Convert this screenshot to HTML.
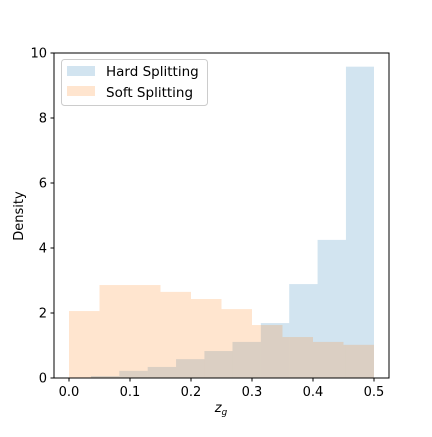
<!DOCTYPE html>
<html><head><meta charset="utf-8"><style>
body{margin:0;background:#fff;}
svg{font-family:"DejaVu Sans","Liberation Sans",sans-serif;}
</style></head><body>
<svg id="c" width="432" height="432" viewBox="0 0 432 432">
<rect width="432" height="432" fill="#fff"/>
<g id="bars"></g>
<rect x="54" y="53" width="335" height="325" fill="none" stroke="#000" stroke-width="1"/>
<g id="ticks" font-size="13" fill="#000"></g>
<text x="221" y="412" font-size="13" text-anchor="middle" font-style="italic">z<tspan font-size="9" dy="3">g</tspan></text>
<text x="23" y="216" font-size="13" text-anchor="middle" transform="rotate(-90 23 216)">Density</text>
<g>
<rect x="61.5" y="59.5" width="146" height="46" rx="3" fill="#fff" fill-opacity="0.8" stroke="#ccc"/>
<rect x="67" y="66" width="28" height="10" fill="#1f77b4" fill-opacity="0.2"/>
<text x="106" y="76" font-size="13.5">Hard Splitting</text>
<rect x="67" y="86" width="28" height="10" fill="#ff7f0e" fill-opacity="0.2"/>
<text x="106" y="97" font-size="13.5">Soft Splitting</text>
</g>
</svg>
<script>
const hardEdges=[0.036,0.0825,0.129,0.1755,0.222,0.268,0.3145,0.361,0.4075,0.454,0.5];
const hardValues=[0.06,0.22,0.34,0.58,0.83,1.11,1.69,2.89,4.25,9.58];
const softEdges=[0.0,0.05,0.1,0.15,0.2,0.25,0.3,0.35,0.4,0.45,0.5];
const softValues=[2.06,2.86,2.86,2.65,2.43,2.12,1.63,1.26,1.11,1.02];
const xTicks=[0.0,0.1,0.2,0.3,0.4,0.5];
const yTicks=[0,2,4,6,8,10];
const X=v=>69+v*610, Y=v=>378-v*32.5;
const NS="http://www.w3.org/2000/svg";
const bars=document.getElementById('bars'), tk=document.getElementById('ticks');
function drawHist(edges,vals,color,name){
  vals.forEach((v,i)=>{
    const r=document.createElementNS(NS,'rect');
    r.setAttribute('x',X(edges[i]));r.setAttribute('width',X(edges[i+1])-X(edges[i]));
    r.setAttribute('y',Y(v));r.setAttribute('height',Y(0)-Y(v));
    r.setAttribute('fill',color);r.setAttribute('fill-opacity','0.2');
    
    
    bars.appendChild(r);
  });
}
drawHist(hardEdges,hardValues,'#1f77b4','hard');
drawHist(softEdges,softValues,'#ff7f0e','soft');
xTicks.forEach(t=>{
  const l=document.createElementNS(NS,'line');
  l.setAttribute('x1',X(t));l.setAttribute('x2',X(t));l.setAttribute('y1',378);l.setAttribute('y2',381.5);l.setAttribute('stroke','#000');
  
  
  tk.appendChild(l);
  const s=document.createElementNS(NS,'text');
  s.setAttribute('x',X(t));s.setAttribute('y',396);s.setAttribute('text-anchor','middle');s.textContent=t.toFixed(1);
  
  
  tk.appendChild(s);
});
yTicks.forEach(t=>{
  const l=document.createElementNS(NS,'line');
  l.setAttribute('x1',50.5);l.setAttribute('x2',54);l.setAttribute('y1',Y(t));l.setAttribute('y2',Y(t));l.setAttribute('stroke','#000');
  
  
  tk.appendChild(l);
  const s=document.createElementNS(NS,'text');
  s.setAttribute('x',47);s.setAttribute('y',Y(t)+4.5);s.setAttribute('text-anchor','end');s.textContent=t;
  
  
  tk.appendChild(s);
});
</script>
</body></html>
